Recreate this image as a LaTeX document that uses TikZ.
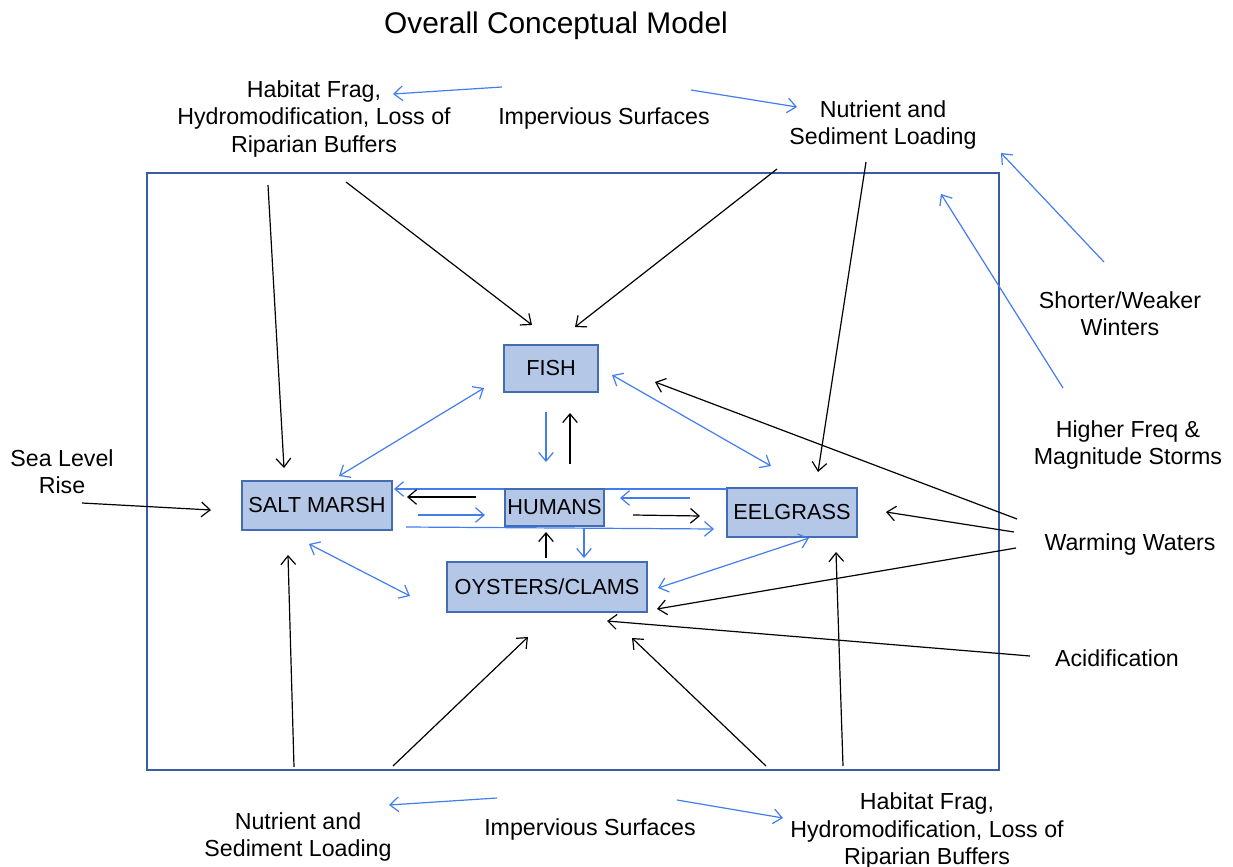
\documentclass[tikz,border=0pt]{standalone}
\usepackage{fontspec}
\setmainfont{Liberation Sans}
\usetikzlibrary{arrows.meta}
\definecolor{boxfill}{RGB}{180,199,231}
\definecolor{boxline}{RGB}{68,108,178}
\definecolor{arrblue}{RGB}{66,125,240}
\definecolor{framecol}{RGB}{58,92,165}
\tikzset{
  lbl/.style={align=center,font=\fontsize{17.4}{20.3}\selectfont,inner sep=0pt},
  entity/.style={draw=boxline,fill=boxfill,line width=1pt,inner sep=0pt,font=\fontsize{16.3}{19}\selectfont},
  barb/.style={-{Straight Barb[length=6.5pt,width=11pt,line width=0.9pt]}},
  dbarb/.style={{Straight Barb[length=6.5pt,width=11pt,line width=0.9pt]}-{Straight Barb[length=6.5pt,width=11pt,line width=0.9pt]}},
  blk/.style={barb,draw=black,line width=0.9pt},
  blu/.style={barb,draw=arrblue,line width=0.9pt},
  blud/.style={dbarb,draw=arrblue,line width=0.9pt},
}
\begin{document}
\begin{tikzpicture}[x=0.75pt,y=-0.75pt]
\useasboundingbox (0,0) rectangle (1233,867);
\fill[white] (0,0) rectangle (1233,867);
% frame
\draw[framecol,line width=1pt] (147,173) rectangle (999,770);
% title
\node[lbl,font=\fontsize{22.4}{26}\selectfont] (title) at (556,26) {Overall Conceptual Model};
% outer labels
\node[lbl] (habT) at (314,119) {Habitat Frag,\\Hydromodification, Loss of\\Riparian Buffers};
\node[lbl] (impT) at (604,119) {Impervious Surfaces};
\node[lbl] (nutT) at (883,125) {Nutrient and\\Sediment Loading};
\node[lbl] (short) at (1120,314) {Shorter/Weaker\\Winters};
\node[lbl] (storm) at (1128,445) {Higher Freq \&\\Magnitude Storms};
\node[lbl] (sea) at (62,472) {Sea Level\\Rise};
\node[lbl] (warm) at (1130,544) {Warming Waters};
\node[lbl] (acid) at (1117,658) {Acidification};
\node[lbl] (nutB) at (298,837) {Nutrient and\\Sediment Loading};
\node[lbl] (impB) at (590,829) {Impervious Surfaces};
\node[lbl] (habB) at (927,831) {Habitat Frag,\\Hydromodification, Loss of\\Riparian Buffers};
% entities
\node[entity,minimum width=70.5pt,minimum height=35.25pt] (fish) at (551,368.5) {FISH};
\node[entity,minimum width=112.5pt,minimum height=36.75pt] (marsh) at (317,505.5) {SALT MARSH};
\node[entity,minimum width=97.5pt,minimum height=36.75pt] (eel) at (792,512.5) {EELGRASS};
\node[entity,minimum width=150pt,minimum height=37.5pt] (oys) at (547,587) {OYSTERS/CLAMS};
% long blue lines behind humans
\draw[blu] (727,489) -- (394,489);
\draw[blu] (406,527) -- (714,529);
\node[entity,minimum width=74.25pt,minimum height=27.75pt] (hum) at (554.5,507.5) {HUMANS};
% top outer blue arrows
\draw[blu] (502,87) -- (393,94);
\draw[blu] (691,90) -- (797,107);
\draw[blu] (1104,262) -- (1001,153);
\draw[blu] (1063,388) -- (941,194);
% bottom outer blue arrows
\draw[blu] (497,798) -- (389,805);
\draw[blu] (677,800) -- (783,818);
% sea level
\draw[blk] (82,503) -- (211,510);
% top black arrows
\draw[blk] (268,185) -- (284,468);
\draw[blk] (346,182) -- (532,325);
\draw[blk] (777,169) -- (575,327);
\draw[blk] (866,162) -- (818,472);
% bottom black arrows
\draw[blk] (294,767) -- (288,555);
\draw[blk] (393,766) -- (528,637);
\draw[blk] (766,766) -- (632,638);
\draw[blk] (843,766) -- (836,552);
% warming, acidification
\draw[blk] (1017,519) -- (655,382);
\draw[blk] (1014,532) -- (886,512);
\draw[blk] (1016,548) -- (657,609);
\draw[blk] (1030,656) -- (607,621);
% among entities
\draw[blud] (484,388) -- (339,476);
\draw[blud] (612,375) -- (771,466);
\draw[blu] (546,412) -- (546,462);
\draw[blk] (570,464) -- (570,413);
\draw[blk] (476,497) -- (407,497);
\draw[blu] (418,515) -- (485,515);
\draw[blu] (690,498) -- (620,498);
\draw[blk] (633,515) -- (700,516);
\draw[blk] (546,558) -- (546,532);
\draw[blu] (584,528) -- (584,558);
\draw[blud] (309,544) -- (410,596);
\draw[blud] (809,538) -- (658,588);
\end{tikzpicture}
\end{document}
